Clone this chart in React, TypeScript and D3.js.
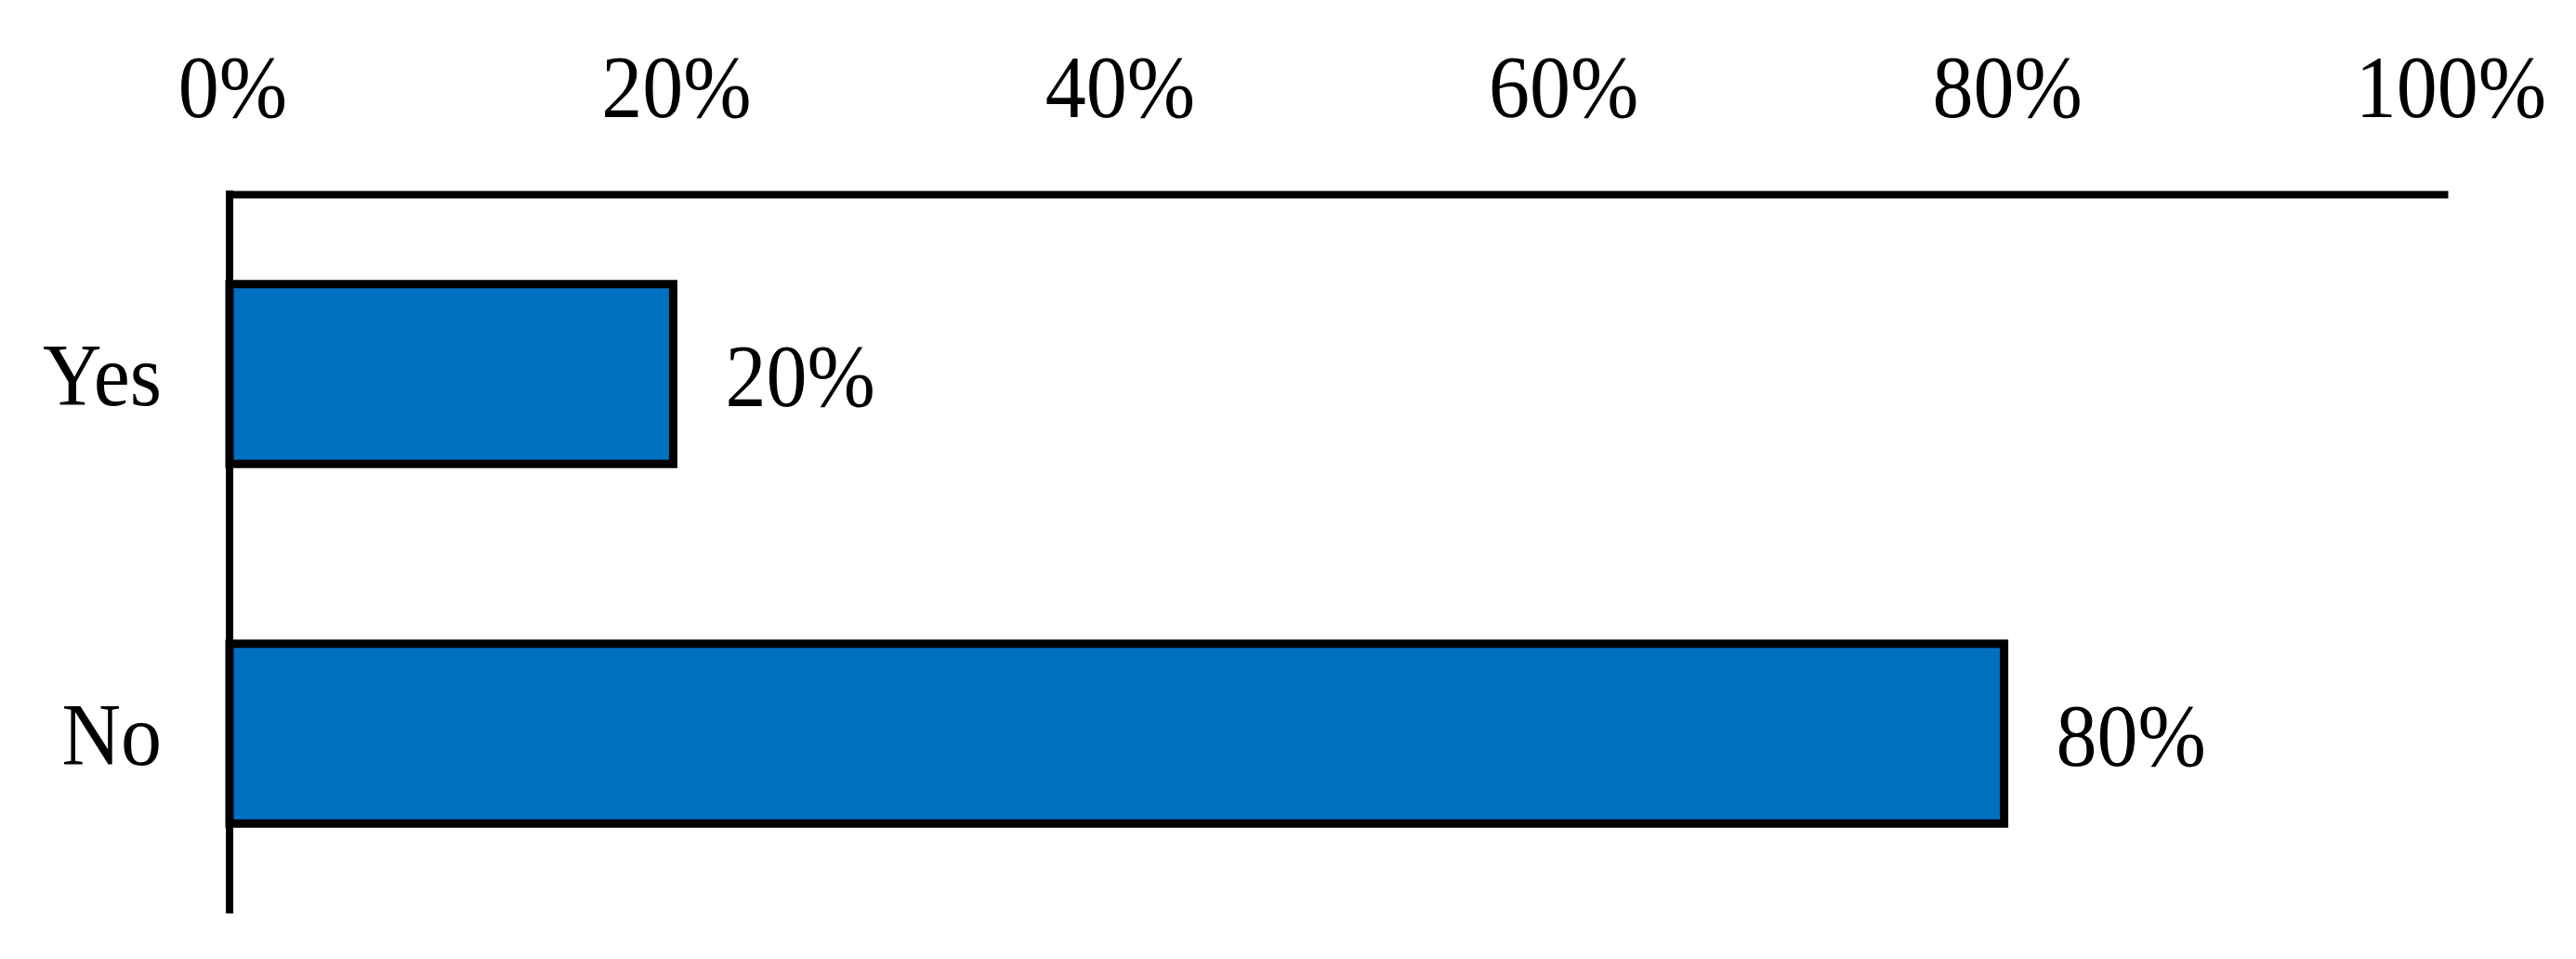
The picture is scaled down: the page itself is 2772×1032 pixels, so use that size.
import React, { useEffect, useRef } from "react";
import * as d3 from "d3";

// data
const categories = ["Yes", "No"];
const values = [20, 80];
const tickValues = [0, 20, 40, 60, 80, 100];

const W = 2772;
const H = 1032;

export default function App() {
  const ref = useRef<SVGSVGElement | null>(null);

  useEffect(() => {
    const svg = d3.select(ref.current);
    svg.selectAll("*").remove();

    const font = "'Liberation Serif', 'Times New Roman', serif";
    const fontSize = 88;
    const stretch = "scale(1,1.08)";

    const x = d3.scaleLinear().domain([0, 100]).range([247, 2634]);
    const y = d3
      .scaleBand()
      .domain(categories)
      .range([209, 983])
      .paddingInner(0.5)
      .paddingOuter(0.25);

    // top axis (percent ticks)
    const xAxis = svg
      .append("g")
      .attr("transform", `translate(0,209)`)
      .call(
        d3
          .axisTop(x)
          .tickValues(tickValues)
          .tickSize(0)
          .tickFormat((d) => `${d}%`)
      );
    xAxis.select(".domain").attr("stroke", "#000").attr("stroke-width", 8);
    xAxis
      .selectAll("text")
      .attr("y", 0)
      .attr("dy", null)
      .attr("transform", `translate(3,-83) ${stretch}`)
      .attr("fill", "#000")
      .style("font-family", font)
      .style("font-size", `${fontSize}px`);

    // left axis (categories)
    const yAxis = svg
      .append("g")
      .attr("transform", `translate(247,0)`)
      .call(d3.axisLeft(y).tickSize(0));
    yAxis.select(".domain").remove();
    yAxis
      .append("line")
      .attr("x1", 0)
      .attr("x2", 0)
      .attr("y1", 205)
      .attr("y2", 983)
      .attr("stroke", "#000")
      .attr("stroke-width", 8);
    yAxis
      .selectAll(".tick text")
      .attr("x", 0)
      .attr("dy", null)
      .attr("transform", `translate(-73,33) ${stretch}`)
      .attr("fill", "#000")
      .style("font-family", font)
      .style("font-size", `${fontSize}px`);

    // bars
    const bars = svg.append("g");
    bars
      .selectAll("rect")
      .data(values)
      .enter()
      .append("rect")
      .attr("x", x(0))
      .attr("y", (d, i) => y(categories[i])!)
      .attr("width", (d) => x(d) - x(0))
      .attr("height", y.bandwidth())
      .attr("fill", "#0070C0")
      .attr("stroke", "#000")
      .attr("stroke-width", 9);

    // value labels
    bars
      .selectAll("text")
      .data(values)
      .enter()
      .append("text")
      .attr(
        "transform",
        (d, i) =>
          `translate(${x(d) + 56},${y(categories[i])! + y.bandwidth() / 2 + 34}) ${stretch}`
      )
      .attr("fill", "#000")
      .style("font-family", font)
      .style("font-size", `${fontSize}px`)
      .text((d) => `${d}%`);

    // redraw vertical axis on top of bars
    svg
      .append("line")
      .attr("x1", 247)
      .attr("x2", 247)
      .attr("y1", 205)
      .attr("y2", 983)
      .attr("stroke", "#000")
      .attr("stroke-width", 8);
  }, []);

  return (
    <svg
      ref={ref}
      width={W}
      height={H}
      style={{ position: "absolute", left: 0, top: 0, background: "#fff", display: "block" }}
    />
  );
}
